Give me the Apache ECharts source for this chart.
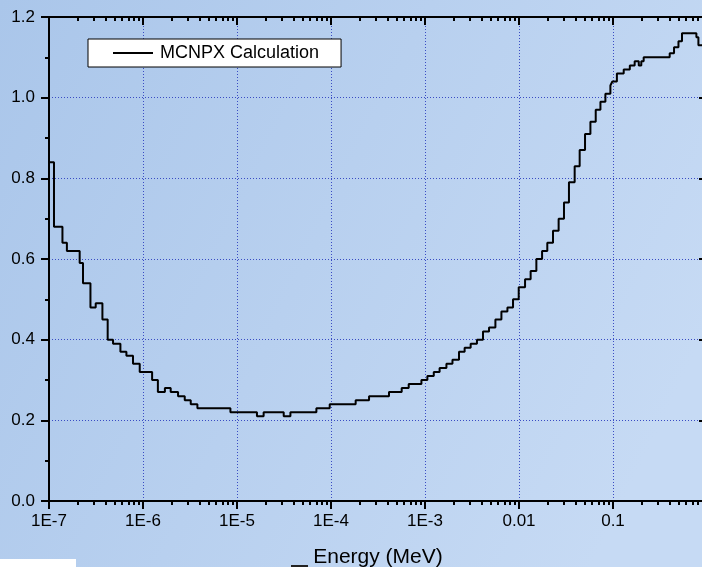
<!DOCTYPE html>
<html>
<head>
<meta charset="utf-8">
<script src="https://cdn.jsdelivr.net/npm/echarts@6/dist/echarts.min.js"></script>
<style>
html,body{margin:0;padding:0;background:#b4cdee;}
#chart{width:702px;height:567px;}
</style>
</head>
<body>
<div id="chart"></div>
<script>
// Bin lower edges (MeV); the last entry closes the final bin
const energyEdges = [1.0e-7, 1.13e-7, 1.39e-7, 1.55e-7, 2.12e-7, 2.30e-7, 2.76e-7, 3.14e-7, 3.70e-7, 4.21e-7,
  4.80e-7, 5.75e-7, 6.66e-7, 7.83e-7, 9.23e-7, 1.25e-6, 1.44e-6, 1.71e-6, 1.97e-6, 2.36e-6,
  2.78e-6, 3.22e-6, 3.79e-6, 8.51e-6, 1.63e-5, 1.92e-5, 3.14e-5, 3.70e-5, 6.99e-5, 9.69e-5,
  1.83e-4, 2.54e-4, 4.14e-4, 5.65e-4, 6.71e-4, 9.16e-4, 1.06e-3, 1.24e-3, 1.43e-3, 1.69e-3,
  1.96e-3, 2.30e-3, 2.64e-3, 3.06e-3, 3.57e-3, 4.14e-3, 4.80e-3, 5.61e-3, 6.50e-3, 7.53e-3,
  8.64e-3, 9.93e-3, 1.16e-2, 1.33e-2, 1.53e-2, 1.76e-2, 2.00e-2, 2.30e-2, 2.64e-2, 3.01e-2,
  3.40e-2, 3.91e-2, 4.42e-2, 5.04e-2, 5.75e-2, 6.55e-2, 7.35e-2, 8.30e-2, 9.38e-2, 9.85e-2,
  0.110, 0.130, 0.151, 0.170, 0.188, 0.200, 0.212, 0.401, 0.446, 0.497,
  0.542, 0.771, 0.810, 1.0];
// MCNPX calculation value for each bin
const mcnpxValues = [0.84, 0.68, 0.64, 0.62, 0.59, 0.54, 0.48, 0.49, 0.45, 0.40,
  0.39, 0.37, 0.36, 0.34, 0.32, 0.30, 0.27, 0.28, 0.27, 0.26,
  0.25, 0.24, 0.23, 0.22, 0.21, 0.22, 0.21, 0.22, 0.23, 0.24,
  0.25, 0.26, 0.27, 0.28, 0.29, 0.30, 0.31, 0.32, 0.33, 0.34,
  0.35, 0.37, 0.38, 0.39, 0.40, 0.42, 0.43, 0.45, 0.47, 0.48,
  0.50, 0.53, 0.55, 0.57, 0.60, 0.62, 0.64, 0.67, 0.70, 0.74,
  0.79, 0.83, 0.87, 0.91, 0.94, 0.97, 0.99, 1.01, 1.03, 1.04,
  1.06, 1.07, 1.08, 1.09, 1.08, 1.09, 1.10, 1.11, 1.125, 1.14,
  1.16, 1.15, 1.13];
const xDecades = [1e-7, 1e-6, 1e-5, 1e-4, 1e-3, 1e-2, 1e-1, 1];
const xTickLabels = ['1E-7', '1E-6', '1E-5', '1E-4', '1E-3', '0.01', '0.1', ''];
const yTickLabels = ['0.0', '0.2', '0.4', '0.6', '0.8', '1.0', '1.2'];
const seriesName = 'MCNPX Calculation';
const xAxisTitle = 'Energy (MeV)';

const minorValues = [];
for (let d = 0; d < xDecades.length - 1; d++) {
  for (let k = 2; k <= 9; k++) minorValues.push(+(k * xDecades[d]).toPrecision(6));
}
const stepData = energyEdges.map((e, i) => [e, mcnpxValues[Math.min(i, mcnpxValues.length - 1)]]);

function xLabel(v) {
  const idx = xDecades.findIndex(d => Math.abs(Math.log10(d) - Math.log10(v)) < 1e-6);
  return idx >= 0 ? xTickLabels[idx] : '';
}
function yLabel(v) {
  const idx = Math.round(v / 0.2);
  return yTickLabels[idx] !== undefined ? yTickLabels[idx] : '';
}

const FONT = 'Liberation Sans, Arial, sans-serif';
const gridLine = { show: true, lineStyle: { color: '#3a4cc4', width: 1, type: [1, 2] } };
const axisLineStyle = { show: true, lineStyle: { color: '#000', width: 2 } };

const chart = echarts.init(document.getElementById('chart'), null, { renderer: 'canvas' });
const xBase = { type: 'log', logBase: 10, min: 1e-7, max: 1, gridIndex: 0 };
chart.setOption({
  animation: false,
  backgroundColor: {
    type: 'linear', x: 0, y: 0, x2: 1, y2: 0.6,
    colorStops: [{ offset: 0, color: '#aac6ea' }, { offset: 1, color: '#c6daf4' }]
  },
  grid: { left: 49, top: 17, width: 658, height: 484, containLabel: false, outerBoundsMode: 'none' },
  legend: {
    left: 88, top: 39,
    data: [seriesName],
    icon: 'rect', itemWidth: 40, itemHeight: 2, itemGap: 0,
    backgroundColor: '#fff', borderColor: '#000', borderWidth: 1, borderRadius: 0,
    padding: [5, 22, 5, 25],
    textStyle: { fontFamily: FONT, fontSize: 18, color: '#000', padding: [0, 0, 0, 2] }
  },
  xAxis: [
    Object.assign({}, xBase, {
      position: 'bottom',
      name: xAxisTitle, nameLocation: 'middle', nameGap: 46,
      nameTextStyle: { fontFamily: FONT, fontSize: 21, color: '#000' },
      axisLine: axisLineStyle,
      axisTick: { show: true, inside: false, length: 8, lineStyle: { color: '#000', width: 2 } },
      axisLabel: { show: true, margin: 12, fontFamily: FONT, fontSize: 17, color: '#000', formatter: xLabel },
      splitLine: gridLine, minorTick: { show: false }
    }),
    Object.assign({}, xBase, {
      position: 'bottom',
      axisLine: { show: false },
      axisTick: { show: true, inside: false, length: 4, customValues: minorValues, lineStyle: { color: '#000', width: 2 } },
      axisLabel: { show: false }, splitLine: { show: false }
    }),
    Object.assign({}, xBase, {
      position: 'top',
      axisLine: axisLineStyle,
      axisTick: { show: true, inside: true, length: 8, lineStyle: { color: '#000', width: 2 } },
      axisLabel: { show: false }, splitLine: { show: false }
    }),
    Object.assign({}, xBase, {
      position: 'top',
      axisLine: { show: false },
      axisTick: { show: true, inside: true, length: 4, customValues: minorValues, lineStyle: { color: '#000', width: 2 } },
      axisLabel: { show: false }, splitLine: { show: false }
    })
  ],
  yAxis: [
    {
      type: 'value', min: 0, max: 1.2, interval: 0.2, position: 'left',
      axisLine: axisLineStyle,
      axisTick: { show: true, inside: false, length: 8, lineStyle: { color: '#000', width: 2 } },
      minorTick: { show: true, splitNumber: 2, length: 4, lineStyle: { color: '#000', width: 2 } },
      axisLabel: { show: true, margin: 14, fontFamily: FONT, fontSize: 17, color: '#000', formatter: yLabel },
      splitLine: gridLine
    },
    {
      type: 'value', min: 0, max: 1.2, interval: 0.2, position: 'right',
      axisLine: axisLineStyle,
      axisTick: { show: true, inside: true, length: 8, lineStyle: { color: '#000', width: 2 } },
      minorTick: { show: true, splitNumber: 2, length: 4, lineStyle: { color: '#000', width: 2 } },
      axisLabel: { show: false }, splitLine: { show: false }
    }
  ],
  series: [{
    name: seriesName,
    type: 'line',
    step: 'end',
    xAxisIndex: 0, yAxisIndex: 0,
    data: stepData,
    symbol: 'none',
    lineStyle: { color: '#000', width: 2 },
    itemStyle: { color: '#000' },
    z: 5
  }],
  graphic: [
    { type: 'rect', left: 0, top: 559, shape: { width: 76, height: 8 }, style: { fill: '#fff' }, silent: true },
    { type: 'rect', left: 291, top: 565, shape: { width: 17, height: 2 }, style: { fill: '#222' }, silent: true }
  ]
});
</script>
</body>
</html>
